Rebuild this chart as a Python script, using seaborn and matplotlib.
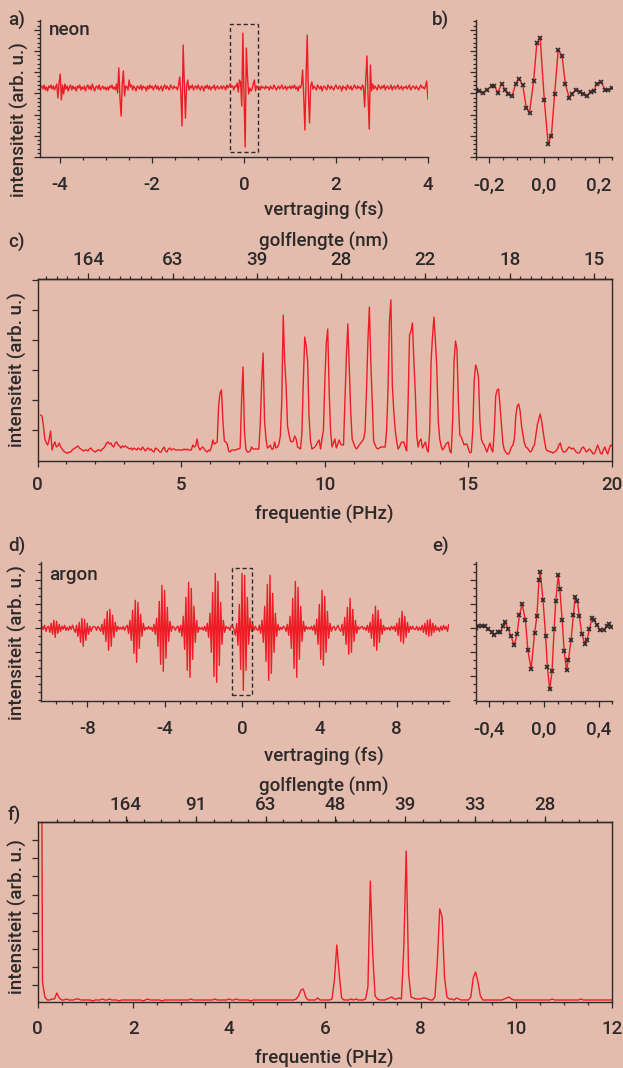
import numpy as np
import matplotlib
matplotlib.use("Agg")
import matplotlib.pyplot as plt
import seaborn as sns
from matplotlib.patches import Rectangle

W, H = 623, 1068
BG = "#e3bcae"
RED = "#ee1c25"
INK = "#2e2a2a"

# ---------------- data ----------------
# a) neon, signal vs delay, samples every 0.025 fs from -4.425 to 4.0
a_y = [1, 2, -1, 3, -2, 1, -3, 2, 0, 3, -1, 2, -2, 1, 4, -10, 5, 14,
       -12, 3, -6, 4, -1, 2, -3, 1, 3, -2, 2, -1, 1, -3, 2, 0, 3, -2, 1, -1,
       2, -3, 1, 3, -1, 2, -2, 4, 0, -3, 1, 2, -1, 3, -2, 0, 2, -1, 1, -2,
       1, -2, 2, 0, 3, -1, 1, -2, 4, -5, 20, -10, -28, 4, 17, -8, 2, 1, -2, 8,
       1, 3, -2, 2, 0, -3, 2, 1, -1, 3, -2, 2, 0, 1, -3, 2, -1, 3, 0, 2,
       -2, 1, 3, -1, 2, -2, 0, 2, -3, 1, 3, -1, 2, 0, -2, 3, 1, -1, 2, 0,
       1, -2, 3, 11, -5, -38, 43, 5, -30, 2, 8, -2, 2, 0, 3, -2, 1, 2, -1, 3,
       0, -2, 2, 1, -3, 2, 0, 3, -1, 2, -2, 1, 0, 3, -2, 1, 2, -1, 0, 2,
       -1, 2, 1, -2, 3, 0, 2, 4, 1, 2, -2, 2, 1, 5, -4, 8, 6, -18, 55, -8,
       -59, 40, 12, -6, 0, -3, -1, 4, 8, -3, 2, 0, 1, -2, 2, 0, 1, -1, 2, 0,
       1, -2, 2, 0, -1, 3, 1, -2, 0, 2, -1, 1, 3, -1, 0, 2, -2, 1, 0, 2,
       -1, 2, 0, 3, -1, 1, -3, 2, 0, 3, 18, -10, -42, 10, 53, -5, -35, 2, 6, -1,
       2, 0, -2, 3, 1, -1, 2, -3, 1, 2, 0, -2, 3, 1, -1, 2, 0, -2, 1, 3,
       0, -1, 2, 1, -3, 2, 0, 1, -2, 3, 1, -1, 2, -2, 0, 3, 1, -1, 2, 0,
       1, -2, 3, 1, -19, 10, 32, -10, -41, 23, -3, 4, -1, 2, 0, -2, 3, 1, -1, 2,
       0, 3, -2, 1, 2, -1, 0, 3, -2, 1, 2, -1, 1, 3, -1, 0, 2, -2, 1, 0,
       2, -1, 1, 3, -2, 0, 2, 1, -1, 2, 0, -2, 1, 3, 0, 1, -1, 2, 7, -11]

# b) central neon burst, measured points
b_t = [-0.248, -0.237, -0.223, -0.207, -0.192, -0.182, -0.169, -0.155, -0.142, -0.130,
       -0.117, -0.103, -0.092, -0.078, -0.065, -0.053, -0.038, -0.026, -0.014, 0.001,
       0.015, 0.027, 0.039, 0.052, 0.066, 0.078, 0.092, 0.104, 0.117, 0.132,
       0.144, 0.156, 0.171, 0.183, 0.193, 0.208, 0.224, 0.236, 0.248]
b_y = [1, 0, -2, 1, 5, 5, -2, 7, 1, -3,
       -5, 7, 12, 6, -17, -22, 10, 48, 53, -9,
       -53, -45, -3, 41, 35, 7, -7, -3, 1, -1,
       -3, -5, -1, 0, 7, 9, 1, 1, 3]

# c) neon spectrum, samples every 0.05 PHz from 0.1 to 20
c_y = [46, 45, 35, 22, 18, 16, 22, 30, 11, 16, 19, 14, 15, 18, 14, 12, 10, 9,
       8, 8, 9, 9, 11, 12, 13, 14, 15, 13, 12, 11, 10, 11, 11, 10, 12, 13, 11, 10,
       9, 10, 11, 11, 10, 12, 13, 15, 18, 19, 17, 18, 15, 14, 18, 19, 16, 15, 13, 15,
       14, 15, 14, 13, 12, 13, 11, 13, 12, 11, 13, 12, 11, 14, 12, 10, 12, 13, 11, 12,
       10, 9, 13, 12, 11, 9, 9, 12, 14, 10, 9, 12, 13, 11, 12, 12, 11, 11, 11, 11,
       11, 11, 12, 11, 12, 11, 11, 11, 16, 14, 15, 22, 14, 11, 13, 14, 12, 10, 9, 11,
       10, 14, 21, 17, 18, 19, 55, 68, 71, 40, 20, 19, 17, 10, 9, 11, 11, 11, 11, 12,
       12, 13, 60, 94, 30, 12, 9, 9, 10, 14, 12, 12, 12, 12, 12, 36, 80, 108, 40, 22,
       13, 14, 16, 12, 12, 19, 13, 14, 17, 25, 60, 146, 100, 76, 35, 27, 20, 19, 20, 25,
       22, 14, 13, 12, 27, 80, 124, 115, 100, 45, 20, 12, 13, 14, 16, 19, 21, 12, 22, 31,
       80, 118, 132, 70, 30, 14, 18, 22, 13, 17, 21, 17, 16, 16, 60, 105, 137, 95, 50, 22,
       18, 14, 12, 14, 16, 18, 20, 22, 30, 70, 120, 154, 100, 60, 20, 16, 13, 12, 13, 14,
       14, 14, 14, 30, 72, 140, 161, 76, 50, 31, 20, 12, 14, 18, 19, 19, 14, 10, 60, 126,
       130, 138, 100, 69, 25, 14, 20, 22, 13, 16, 19, 12, 9, 29, 100, 125, 144, 120, 93, 40,
       22, 15, 11, 13, 16, 18, 19, 10, 8, 40, 100, 120, 112, 60, 26, 24, 20, 16, 17, 17,
       12, 8, 9, 30, 79, 96, 92, 84, 40, 22, 18, 16, 12, 9, 14, 18, 12, 9, 30, 65,
       71, 72, 55, 36, 18, 11, 9, 7, 7, 10, 14, 16, 22, 45, 55, 57, 50, 35, 26, 18,
       14, 13, 11, 9, 10, 14, 16, 26, 36, 42, 47, 40, 30, 20, 12, 10, 10, 9, 9, 8,
       9, 10, 12, 16, 18, 12, 9, 9, 10, 12, 14, 13, 12, 13, 11, 9, 8, 8, 10, 13,
       14, 12, 9, 10, 12, 11, 9, 7, 8, 12, 16, 12, 8, 7, 11, 14, 10, 7, 12, 16, 15]
c_top_pos = [1.76, 4.695, 7.63, 10.565, 13.5, 16.435, 19.37]
c_top_lab = ["164", "63", "39", "28", "22", "18", "15"]

# d) argon, samples every 0.069 fs from -10.35 to 10.695
d_y = [2, -1, 3, -3, 1, 2, -4, 5, -6, 8, -9, 7, -5, 4, -3, 2, -1, 3, -2, 1,
       -2, 2, -1, 3, -1, -4, 3, -8, 6, -14, 10, -18, 9, -12, 5, -6, 2, -3, 1, 2,
       1, -2, 2, 0, -3, 4, -6, 9, -13, 17, -22, 19, -18, 13, -9, 6, -3, 2, -1, 1,
       -1, 2, -2, 1, 3, -5, 8, -12, 18, -25, 28, -34, 26, -20, 14, -8, 5, -2, 1, -1,
       2, -1, 1, -3, 4, -6, 10, -18, 27, -36, 43, -43, 38, -30, 21, -13, 7, -3, 2, 1,
       -2, 1, 2, -4, 3, -8, 12, -21, 31, -42, 46, -49, 40, -31, 22, -14, 8, -4, 1, -1,
       1, -2, 2, -3, 5, -9, 15, -24, 36, -48, 55, -54, 47, -37, 26, -16, 8, -4, 2, 0,
       1, -2, 3, 2, -1, -7, 5, -17, 24, -41, 55, -62, 53, -42, 31, -16, 10, -3, 4, -2,
       2, -1, -2, 3, -5, 8, -14, 22, -33, 44, -52, 53, -45, 35, -24, 15, -8, 4, -2, 1,
       -1, 2, 1, -3, 4, -7, 12, -20, 30, -40, 47, -49, 41, -31, 22, -13, 7, -3, 2, -1,
       1, -1, 2, -2, 3, -6, 9, -16, 24, -31, 38, -37, 32, -24, 17, -10, 5, -3, 1, 2,
       -2, 1, 3, -1, -3, 4, -7, 11, -16, 21, -26, 30, -24, 19, -13, 8, -5, 2, -1, 1,
       2, -1, 1, -2, 3, -4, 6, -10, 14, -18, 22, -22, 18, -14, 9, -6, 3, -2, 1, -1,
       1, -2, 2, -1, 2, -3, 5, -7, 10, -13, 17, -15, 12, -9, 6, -4, 2, -1, 2, -1,
       -1, 2, -2, 1, -2, 3, -4, 5, -6, 8, -8, 9, -7, 5, -4, 3, -2, 1, -3, 2,
       -2, 3, -1, 2, -3, 4]

# e) central argon burst, measured points
e_t = [-0.50, -0.48, -0.457, -0.43, -0.41, -0.38, -0.365, -0.34, -0.32, -0.30,
       -0.284, -0.26, -0.242, -0.217, -0.198, -0.18, -0.16, -0.136, -0.118, -0.094,
       -0.069, -0.052, -0.037, -0.027, -0.007, 0.012, 0.025, 0.042, 0.059, 0.074,
       0.086, 0.104, 0.116, 0.133, 0.148, 0.165, 0.178, 0.198, 0.215, 0.227,
       0.244, 0.259, 0.277, 0.30, 0.314, 0.333, 0.35, 0.368, 0.388, 0.412,
       0.437, 0.462, 0.474, 0.491]
e_y = [0, 2, 2, 2, -1, -4, -7, -4, -4, 2,
       6, -1, -8, -17, -6, 13, 24, 8, -22, -41,
       -5, 12, 48, 56, 28, -8, -39, -61, -43, -1,
       27, 53, 39, 8, -23, -42, -32, -12, 13, 31,
       27, 12, -6, -16, -12, -1, 10, 8, 3, -2,
       -2, 2, 4, 1]

# f) argon spectrum, samples every 0.05 PHz from 0.05 to 12
f_y = [700, 20, 5, 2, 2, 3, 3, 9, 4, 2, 2, 3, 2, 2, 2, 3, 3, 2, 2, 2,
       2, 2, 1, 2, 2, 2, 3, 2, 2, 3, 2, 2, 2, 1, 2, 2, 2, 2, 2, 2,
       2, 2, 2, 1, 2, 3, 2, 2, 2, 2, 2, 1, 2, 2, 2, 2, 2, 2, 2, 2,
       2, 2, 2, 3, 2, 2, 2, 2, 2, 2, 2, 2, 2, 3, 2, 2, 2, 2, 2, 3,
       2, 2, 3, 2, 2, 2, 2, 2, 1, 2, 2, 2, 2, 2, 2, 2, 2, 2, 2, 2,
       2, 2, 2, 2, 2, 2, 2, 3, 6, 12, 13, 5, 2, 2, 2, 2, 4, 2, 2, 2,
       2, 2, 3, 22, 57, 28, 4, 2, 2, 2, 3, 2, 3, 2, 2, 2, 3, 15, 121, 48,
       6, 3, 2, 2, 2, 3, 4, 5, 3, 3, 4, 3, 55, 151, 28, 5, 4, 3, 3, 3,
       4, 4, 3, 2, 2, 5, 40, 93, 85, 25, 5, 3, 3, 2, 4, 3, 2, 2, 2, 2,
       5, 24, 30, 20, 6, 2, 2, 2, 2, 2, 2, 2, 2, 2, 3, 4, 5, 3, 2, 2,
       2, 2, 2, 2, 2, 2, 2, 2, 2, 2, 2, 2, 2, 2, 3, 2, 2, 2, 2, 2,
       2, 2, 2, 2, 2, 2, 3, 2, 2, 2, 2, 2, 2, 2, 2, 2, 2, 2, 2, 2]
f_top_pos = [1.84, 3.30, 4.76, 6.22, 7.68, 9.14, 10.60]
f_top_lab = ["164", "91", "63", "48", "39", "33", "28"]

a_t = np.linspace(-4.425, 4.0, len(a_y))
c_f = np.linspace(0.1, 20.0, len(c_y))
d_t = np.linspace(-10.35, 10.695, len(d_y))
f_f = np.linspace(0.05, 12.0, len(f_y))

# ---------------- style ----------------
sns.set_theme(style="ticks")
plt.rcParams["font.family"] = ["Roboto", "DejaVu Sans"]
plt.rcParams["font.weight"] = "medium"
plt.rcParams["axes.unicode_minus"] = False
FS = 13.5
TFS = 13.5
LW = 1.0

fig = plt.figure(figsize=(W / 100, H / 100), dpi=100, facecolor=BG)


def add_ax(l, t, r, b):
    ax = fig.add_axes([l / W, 1 - b / H, (r - l) / W, (b - t) / H])
    ax.set_facecolor("none")
    return ax


def style(ax, box=False, pad=10):
    for s in ax.spines.values():
        s.set_color(INK)
        s.set_linewidth(1.0)
    if not box:
        ax.spines["top"].set_visible(False)
        ax.spines["right"].set_visible(False)
    ax.tick_params(which="both", direction="out", color=INK, width=0.9,
                   labelcolor=INK, labelsize=TFS, top=False, right=False)
    ax.tick_params(which="major", length=4, pad=pad)
    ax.tick_params(which="minor", length=2)
    ax.tick_params(axis="y", which="both", labelleft=False)
    ax.set_xlabel("")
    ax.set_ylabel("")


def line(ax, x, y, **kw):
    sns.lineplot(x=x, y=y, ax=ax, color=RED, linewidth=LW,
                 estimator=None, sort=False, **kw)


def ftext(x, y, s, **kw):
    kw.setdefault("fontsize", FS)
    fig.text(x / W, 1 - y / H, s, color=INK, **kw)


def top_axis(ax, pos, lab, minor, pad):
    top = ax.secondary_xaxis("top")
    top.set_xticks(pos, lab)
    top.set_xticks(minor, minor=True)
    top.tick_params(which="both", direction="out", color=INK, width=0.9,
                    labelcolor=INK, labelsize=TFS)
    top.tick_params(which="major", length=4, pad=pad)
    top.tick_params(which="minor", length=2)
    top.spines["top"].set_color(INK)
    top.spines["top"].set_linewidth(1.0)


# a) neon delay scan
ax = add_ax(40, 20, 428.3, 157)
line(ax, a_t, a_y)
ax.set_xlim(-4.44, 4.01)
ax.set_ylim(-69, 68)
style(ax)
ax.set_xticks([-4, -2, 0, 2, 4], ["-4", "-2", "0", "2", "4"])
ax.set_xticks(np.arange(-4, 4.01, 0.5), minor=True)
ax.set_yticks(-69 + 21.2 * np.arange(7))
ax.set_yticks(-69 + 4.24 * np.arange(33), minor=True)
ax.add_patch(Rectangle((-0.3, -64), 0.6, 128, fill=False, ec=INK, lw=1.0, ls=(0, (3, 2))))

# b) zoom neon
ax = add_ax(475.7, 20, 612.3, 157)
line(ax, b_t, b_y, marker="x", markersize=3, markeredgecolor=INK, markeredgewidth=1.2)
ax.set_xlim(-0.25, 0.25)
ax.set_ylim(-66.3, 70.7)
style(ax)
ax.set_xticks([-0.2, 0.0, 0.2], ["-0,2", "0,0", "0,2"])
ax.set_xticks(np.arange(-0.25, 0.251, 0.05), minor=True)
ax.set_yticks(-66.3 + 21.2 * np.arange(7))
ax.set_yticks(-66.3 + 4.24 * np.arange(33), minor=True)

# c) neon spectrum
ax = add_ax(37.7, 279, 612, 461)
line(ax, c_f, c_y)
ax.set_xlim(0, 20)
ax.set_ylim(0, 182)
style(ax, box=True, pad=6.5)
ax.set_xticks([0, 5, 10, 15, 20], ["0", "5", "10", "15", "20"])
ax.set_xticks(np.arange(0, 20.01, 1), minor=True)
ax.set_yticks(31 + 30 * np.arange(6))
top_axis(ax, c_top_pos, c_top_lab, np.arange(0.292, 20.0, 0.367), 3)

# d) argon delay scan
ax = add_ax(40.7, 562, 449.3, 701)
line(ax, d_t, d_y)
ax.set_xlim(-10.41, 10.72)
ax.set_ylim(-72.7, 66.3)
style(ax)
ax.set_xticks([-8, -4, 0, 4, 8], ["-8", "-4", "0", "4", "8"])
ax.set_xticks(np.arange(-9.6, 10.5, 0.8), minor=True)
ax.set_yticks([-48, -24, 0, 24, 48])
ax.set_yticks(np.arange(-72, 66, 8), minor=True)
ax.add_patch(Rectangle((-0.53, -66.7), 1.06, 126.7, fill=False, ec=INK, lw=1.0, ls=(0, (3, 2))))

# e) zoom argon
ax = add_ax(475.7, 562, 612.3, 701)
line(ax, e_t, e_y, marker="x", markersize=3, markeredgecolor=INK, markeredgewidth=1.2)
ax.set_xlim(-0.5, 0.5)
ax.set_ylim(-72.7, 66.3)
style(ax)
ax.set_xticks([-0.4, 0.0, 0.4], ["-0,4", "0,0", "0,4"])
ax.set_xticks(np.arange(-0.5, 0.501, 0.1), minor=True)
ax.set_yticks([-48, -24, 0, 24, 48])
ax.set_yticks(np.arange(-72, 66, 8), minor=True)

# f) argon spectrum
ax = add_ax(37.7, 822, 612, 1002)
line(ax, f_f, f_y)
ax.set_xlim(0, 12)
ax.set_ylim(0, 180)
style(ax, box=True, pad=9)
ax.set_xticks(np.arange(0, 13, 2), [str(v) for v in range(0, 13, 2)])
ax.set_xticks(np.arange(0, 12.01, 0.5), minor=True)
ax.set_yticks(17 + 18.1 * np.arange(9))
top_axis(ax, f_top_pos, f_top_lab, np.arange(0.4, 12.0, 0.364), 2)

# ---------------- text ----------------
ftext(8, 20, "a)", va="center")
ftext(432, 20, "b)", va="center")
ftext(49, 30, "neon", va="center")
ftext(324, 210, "vertraging (fs)", ha="center", va="center")
ftext(19, 120, "intensiteit (arb. u.)", ha="center", va="center", rotation=90)

ftext(8, 242, "c)", va="center")
ftext(324, 241, "golflengte (nm)", ha="center", va="center")
ftext(17, 370, "intensiteit (arb. u.)", ha="center", va="center", rotation=90)
ftext(324, 514, "frequentie (PHz)", ha="center", va="center")

ftext(8, 546, "d)", va="center")
ftext(432, 546, "e)", va="center")
ftext(49, 575, "argon", va="center")
ftext(324, 756, "vertraging (fs)", ha="center", va="center")
ftext(17, 643, "intensiteit (arb. u.)", ha="center", va="center", rotation=90)

ftext(324, 786, "golflengte (nm)", ha="center", va="center")
ftext(8, 815, "f)", va="center")
ftext(17, 917, "intensiteit (arb. u.)", ha="center", va="center", rotation=90)
ftext(324, 1058, "frequentie (PHz)", ha="center", va="center")

fig.savefig("out.png", dpi=100, facecolor=BG)
